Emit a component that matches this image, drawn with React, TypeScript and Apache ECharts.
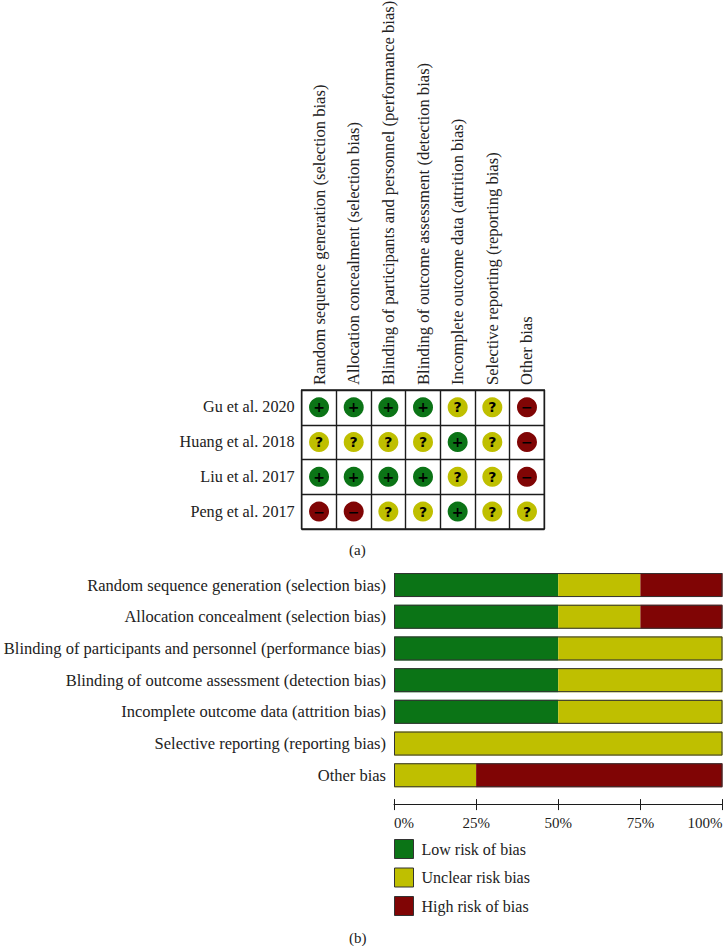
import React, { useEffect, useRef } from "react";
import * as echarts from "echarts";

const domains = [
  "Random sequence generation (selection bias)",
  "Allocation concealment (selection bias)",
  "Blinding of participants and personnel (performance bias)",
  "Blinding of outcome assessment (detection bias)",
  "Incomplete outcome data (attrition bias)",
  "Selective reporting (reporting bias)",
  "Other bias",
];
const studies = ["Gu et al. 2020", "Huang et al. 2018", "Liu et al. 2017", "Peng et al. 2017"];
const guRow = ["+", "+", "+", "+", "?", "?", "-"];
const huangRow = ["?", "?", "?", "?", "+", "?", "-"];
const liuRow = ["+", "+", "+", "+", "?", "?", "-"];
const pengRow = ["-", "-", "?", "?", "+", "?", "?"];
const judgementRows = [guRow, huangRow, liuRow, pengRow];
const lowRisk = [50, 50, 50, 50, 50, 0, 0];
const unclearRisk = [25, 25, 50, 50, 50, 100, 25];
const highRisk = [25, 25, 0, 0, 0, 0, 75];
const totals = [100, 100, 100, 100, 100, 100, 100];
const seriesNames = ["Low risk of bias", "Unclear risk bias", "High risk of bias"];

const GREEN = "#0b7416";
const YELLOW = "#bfbf00";
const RED = "#800505";
const INK = "#1c1c1c";
const FONT = '"Liberation Serif", serif';
const colorOf: Record<string, string> = { "+": GREEN, "?": YELLOW, "-": RED };
const glyphOf: Record<string, string> = { "+": "+", "?": "?", "-": "−" };

export default function App() {
  const ref = useRef<HTMLDivElement>(null);
  useEffect(() => {
    const chart = echarts.init(ref.current!, null, { renderer: "svg" });
    const dots: any[] = [];
    judgementRows.forEach((row, r) =>
      row.forEach((j, c) =>
        dots.push({
          value: [c, r],
          itemStyle: { color: colorOf[j], opacity: 1 },
          label: { formatter: glyphOf[j] },
        })
      )
    );
    const stack = (name: string, data: number[], color: string) => ({
      name,
      type: "bar",
      stack: "risk",
      xAxisIndex: 1,
      yAxisIndex: 1,
      barWidth: 24,
      barGap: "-100%",
      data,
      itemStyle: { color },
    });
    chart.setOption({
      animation: false,
      backgroundColor: "#fff",
      textStyle: { fontFamily: FONT },
      grid: [
        { left: 301.7, top: 390, width: 242.6, height: 139, outerBoundsMode: "none", show: true, borderColor: INK, borderWidth: 1.4, backgroundColor: "transparent" },
        { left: 394, top: 569.2, width: 328.5, height: 221.9, outerBoundsMode: "none" },
      ],
      legend: {
        orient: "vertical",
        left: 394,
        top: 839,
        icon: "rect",
        itemWidth: 19,
        itemHeight: 19,
        itemGap: 8.5,
        padding: 0,
        data: seriesNames,
        itemStyle: { borderColor: "#333", borderWidth: 1 },
        textStyle: { fontFamily: FONT, fontSize: 16, color: "#222", padding: [0, 0, 0, 3] },
      },
      xAxis: [
        {
          type: "category",
          gridIndex: 0,
          position: "top",
          data: domains,
          axisLine: { show: false },
          axisTick: { show: false },
          splitLine: { show: true, lineStyle: { color: INK, width: 1.4 } },
          axisLabel: { rotate: -90, margin: 5, interval: 0, padding: [0, 0, 3, 0], fontFamily: FONT, fontSize: 16.6, color: "#222" },
        },
        {
          type: "value",
          gridIndex: 1,
          min: 0,
          max: 100,
          interval: 25,
          position: "bottom",
          offset: 8,
          axisLine: { show: false },
          axisTick: { show: true, length: 11, lineStyle: { color: INK, width: 1 } },
          splitLine: { show: false },
          axisLabel: {
            margin: 16,
            fontFamily: FONT,
            fontSize: 15,
            color: "#222",
            alignMinLabel: "left",
            alignMaxLabel: "right",
            formatter: "{value}%",
          },
        },
        {
          type: "value",
          gridIndex: 1,
          min: 0,
          max: 100,
          interval: 25,
          position: "bottom",
          offset: 13,
          axisLine: { show: true, onZero: false, lineStyle: { color: INK, width: 1 } },
          axisTick: { show: false },
          splitLine: { show: false },
          axisLabel: { show: false },
        },
      ],
      yAxis: [
        {
          type: "category",
          gridIndex: 0,
          inverse: true,
          data: studies,
          axisLine: { show: false },
          axisTick: { show: false },
          splitLine: { show: true, lineStyle: { color: INK, width: 1.4 } },
          axisLabel: { margin: 7, fontFamily: FONT, fontSize: 16.2, color: "#222" },
        },
        {
          type: "category",
          gridIndex: 1,
          inverse: true,
          data: domains,
          axisLine: { show: false },
          axisTick: { show: false },
          splitLine: { show: false },
          axisLabel: { margin: 8, interval: 0, fontFamily: FONT, fontSize: 16.5, color: "#222" },
        },
      ],
      series: [
        {
          type: "scatter",
          xAxisIndex: 0,
          yAxisIndex: 0,
          symbol: "circle",
          symbolSize: 20,
          data: dots,
          label: {
            show: true,
            position: "inside",
            fontFamily: '"DejaVu Sans", sans-serif',
            fontWeight: "bold",
            fontSize: 14,
            color: "#000",
          },
        },
        stack(seriesNames[0], lowRisk, GREEN),
        stack(seriesNames[1], unclearRisk, YELLOW),
        stack(seriesNames[2], highRisk, RED),
        {
          name: "outline",
          type: "bar",
          xAxisIndex: 1,
          yAxisIndex: 1,
          barWidth: 24,
          barGap: "-100%",
          z: 5,
          data: totals,
          itemStyle: { color: "transparent", borderColor: "#333", borderWidth: 1 },
        },
      ],
      graphic: [
        { type: "text", left: 349, top: 542, style: { text: "(a)", fontFamily: FONT, fontSize: 15, fill: "#222" } },
        { type: "text", left: 349, top: 930, style: { text: "(b)", fontFamily: FONT, fontSize: 15, fill: "#222" } },
      ],
    });
    return () => chart.dispose();
  }, []);
  return <div ref={ref} style={{ position: "absolute", left: 0, top: 0, width: 724, height: 946 }} />;
}
